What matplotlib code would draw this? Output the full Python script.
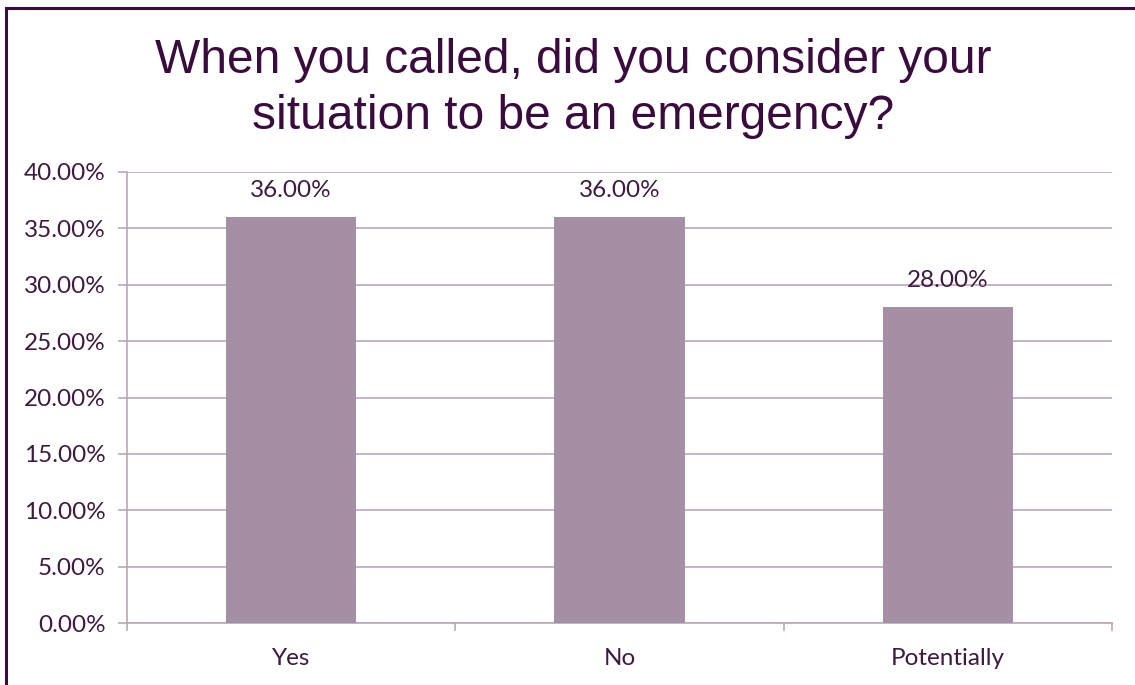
import matplotlib
matplotlib.use("Agg")
import matplotlib.pyplot as plt
from matplotlib.patches import Rectangle
from matplotlib.ticker import FuncFormatter, MultipleLocator

categories = ["Yes", "No", "Potentially"]
shares = [36.00, 36.00, 28.00]
title_lines = ["When you called, did you consider your",
               "situation to be an emergency?"]

bar_color = "#A48FA5"
grid_color = "#BBA6BC"
text_color = "#3E1A40"
title_color = "#3A0B3D"
frame_color = "#3A0B3D"

fig = plt.figure(figsize=(11.35, 6.85), dpi=100)
fig.patch.set_facecolor("white")

# outer frame of the chart area
fig.patches.append(Rectangle((6 / 1135, -0.05), 1.2, 1 - 8 / 685 + 0.05,
                             transform=fig.transFigure, fill=False,
                             edgecolor=frame_color, linewidth=2.2))

ax = fig.add_axes([127 / 1135, 1 - 623 / 685, (1112 - 127) / 1135, (623 - 172) / 685])

x = list(range(len(categories)))
ax.bar(x, shares, width=0.396, color=bar_color, zorder=3)

ax.set_xlim(-0.5, len(categories) - 0.5)
ax.set_ylim(0, 40)
ax.yaxis.set_major_locator(MultipleLocator(5))
ax.yaxis.set_major_formatter(FuncFormatter(lambda v, p: f"{v:.2f}%"))
ax.grid(axis="y", color=grid_color, linewidth=1.2, zorder=0)
ax.set_axisbelow(True)

for s in ["top", "right"]:
    ax.spines[s].set_visible(False)
for s in ["left", "bottom"]:
    ax.spines[s].set_color(grid_color)
    ax.spines[s].set_linewidth(1.2)

ax.set_xticks(x)
ax.set_xticklabels(categories)
ax.tick_params(axis="x", length=0, pad=18, labelsize=17.5, labelcolor=text_color)
ax.tick_params(axis="y", length=6.5, width=1.2, color=grid_color, pad=9,
               labelsize=17.5, labelcolor=text_color)
for lab in ax.get_xticklabels() + ax.get_yticklabels():
    lab.set_fontfamily("Lato")

# category boundary ticks on the x axis
for b in [-0.5, 0.5, 1.5, 2.5]:
    ax.plot([b, b], [0, -0.6], color=grid_color, linewidth=1.2, clip_on=False, zorder=4)

for xi, v in zip(x, shares):
    ax.annotate(f"{v:.2f}%", (xi, v), xytext=(0, 19.5), textcoords="offset points",
                ha="center", va="center", fontsize=17.5, color=text_color,
                family="Lato", zorder=1)

# two-line title, each line placed on its own baseline
for line, base_px in zip(title_lines, [73, 129]):
    fig.text(573 / 1135, 1 - base_px / 685, line, ha="center", va="baseline",
             fontsize=34.5, color=title_color, family="Liberation Sans")

fig.savefig("out.png", dpi=100, facecolor="white")
